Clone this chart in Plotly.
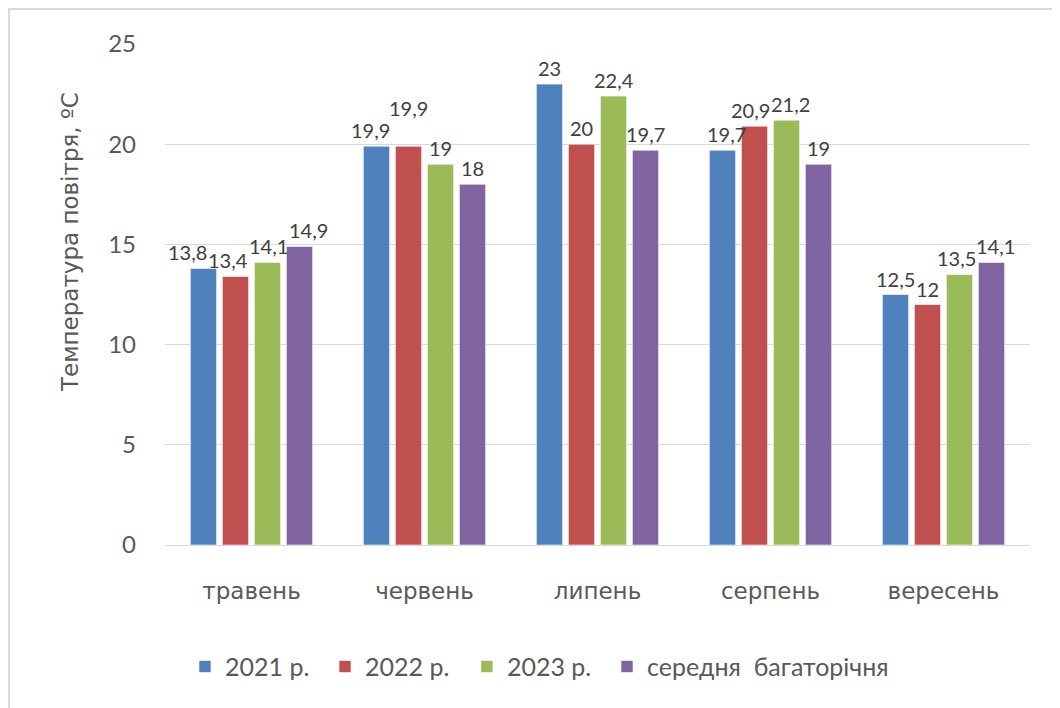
import plotly.graph_objects as go

months = ["травень", "червень", "липень", "серпень", "вересень"]
series_names = ["2021 р.", "2022 р.", "2023 р.", "середня  багаторічня"]
v2021 = [13.8, 19.9, 23.0, 19.7, 12.5]
v2022 = [13.4, 19.9, 20.0, 20.9, 12.0]
v2023 = [14.1, 19.0, 22.4, 21.2, 13.5]
vavg = [14.9, 18.0, 19.7, 19.0, 14.1]
colors = ["#4F81BD", "#C0504D", "#9BBB59", "#8064A2"]
y_title = "Температура повітря, ºC"

LABEL_FONT = dict(size=20, color="#404040", family="Lato")
LEGEND_FONT = dict(size=25, color="#595959", family="Lato")
SLOT = 32  # px between neighbouring bars in a group
# label nudges (px), like the spread-out data labels of the original
nudge_x = [[-16, -6, 0, 4, 0],
           [-8, 0, 0, -4, 0],
           [1, 0, 0, 4, -3],
           [9, 0, 0, 0, 4]]
lift = [[0, 0, 0, 0, 0],
        [0, 22, 0, 0, 0],
        [0, 0, 0, 0, 0],
        [0, 0, 0, 0, 0]]
legend_ids = ["legend", "legend2", "legend3", "legend4"]
legend_x = [0.0231, 0.185, 0.349, 0.511]

def fmt(v):
    return ("%g" % v).replace(".", ",")

fig = go.Figure()
all_vals = [v2021, v2022, v2023, vavg]
for si, (name, vals, col) in enumerate(zip(series_names, all_vals, colors)):
    fig.add_trace(go.Bar(
        x=months, y=vals, name=name, legend=legend_ids[si],
        marker=dict(color=col, line=dict(color="rgba(255,255,255,0.6)", width=1)),
    ))
    for mi, (m, v) in enumerate(zip(months, vals)):
        fig.add_annotation(x=m, y=v, text=fmt(v), showarrow=False, xref="x", yref="y",
                           xshift=(si - 1.5) * SLOT + nudge_x[si][mi],
                           yshift=2 + lift[si][mi], yanchor="bottom", font=LABEL_FONT)

fig.add_annotation(text=y_title, xref="paper", yref="paper",
                   x=(70 - 165) / 865, y=(545 - 242) / 501, xanchor="center", yanchor="middle",
                   textangle=-90, showarrow=False,
                   font=dict(size=23, color="#595959", family="DejaVu Sans"))

legend_layout = {}
for lid, lx in zip(legend_ids, legend_x):
    legend_layout[lid] = dict(orientation="h", x=lx, xanchor="left", y=-0.243,
                              yanchor="middle", font=LEGEND_FONT, bgcolor="rgba(0,0,0,0)")

fig.update_layout(
    width=1060, height=708,
    paper_bgcolor="white", plot_bgcolor="white",
    margin=dict(l=157, r=38, t=36, b=171, autoexpand=False),
    barmode="group", bargap=0.26, bargroupgap=0.18,
    font=dict(family="Lato", color="#595959"),
    showlegend=True,
    **legend_layout,
)
fig.update_yaxes(range=[0, 25], dtick=5, showgrid=True, gridcolor="#D9D9D9", gridwidth=1,
                 zeroline=False, showline=False, ticks="", ticklabelstandoff=28,
                 tickfont=dict(size=24, color="#595959", family="Lato"))
fig.update_xaxes(showline=True, linecolor="#D9D9D9", linewidth=1, ticks="",
                 ticklabelstandoff=25,
                 tickfont=dict(size=23, color="#595959", family="DejaVu Sans"))

fig.add_shape(type="rect", xref="paper", yref="paper",
              x0=(1 - 157) / 865, x1=1.2, y0=-0.6, y1=(537 - 1) / 501,
              line=dict(color="#D9D9D9", width=2), fillcolor="rgba(0,0,0,0)", layer="below")

fig.write_html("out.html")
